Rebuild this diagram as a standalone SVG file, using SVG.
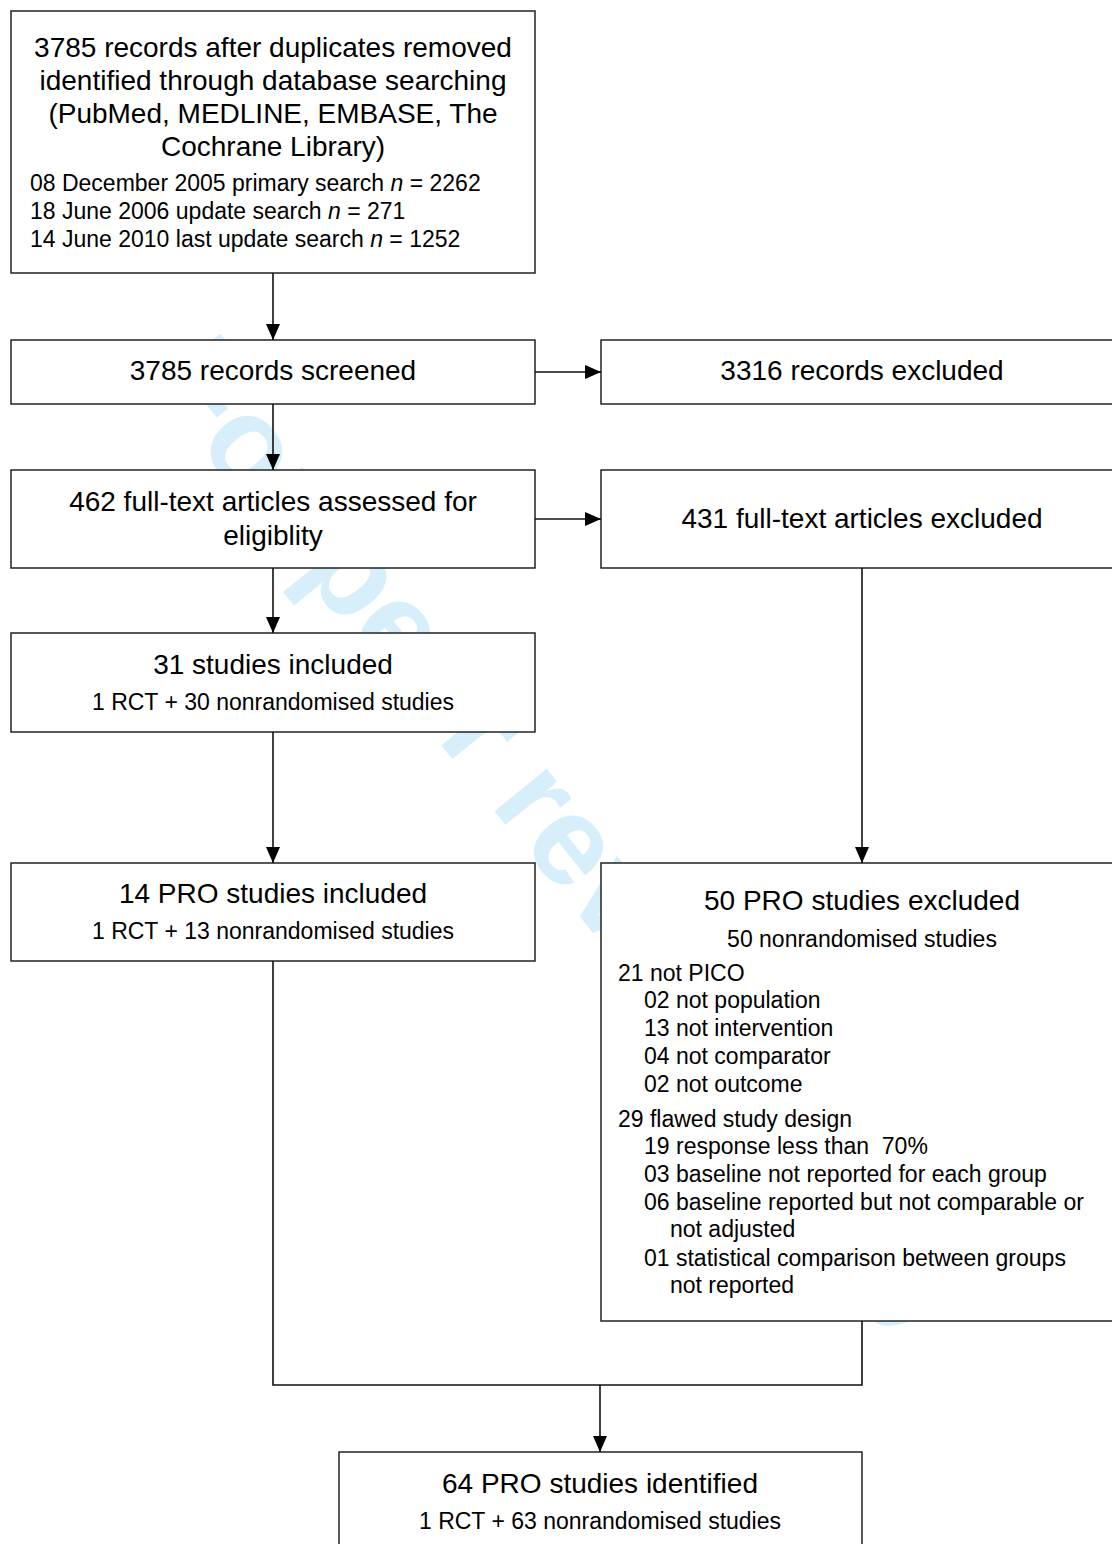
<svg xmlns="http://www.w3.org/2000/svg" width="1112" height="1544" viewBox="0 0 1112 1544">
<defs>
<style>
.box{fill:#fff;stroke:#222;stroke-width:1.5}
.t{font-family:"Liberation Sans",Arial,sans-serif;fill:#000}
.h{font-size:28px}
.s{font-size:23px}
.c{text-anchor:middle}
.wm{font-family:"Liberation Sans",Arial,sans-serif;font-weight:bold;font-size:127px;fill:#d6effb}
.con{fill:none;stroke:#111;stroke-width:1.6}
</style>
<marker id="arr" viewBox="0 0 16 14" refX="16" refY="7" markerWidth="16" markerHeight="14" markerUnits="userSpaceOnUse" orient="auto">
<path d="M0,0 L16,7 L0,14 z" fill="#000"/>
</marker>
</defs>
<rect width="1112" height="1544" fill="#fff"/>
<text class="wm" x="147" y="382" transform="rotate(51 147 382)">For peer review only</text>

<g id="n1">
<rect class="box" x="11" y="11" width="524" height="262"/>
<text class="t h c" x="273" y="57">3785 records after duplicates removed</text>
<text class="t h c" x="273" y="90">identified through database searching</text>
<text class="t h c" x="273" y="123">(PubMed, MEDLINE, EMBASE, The</text>
<text class="t h c" x="273" y="156">Cochrane Library)</text>
<text class="t s" x="30" y="191">08 December 2005 primary search <tspan font-style="italic">n</tspan> = 2262</text>
<text class="t s" x="30" y="219">18 June 2006 update search <tspan font-style="italic">n</tspan> = 271</text>
<text class="t s" x="30" y="247">14 June 2010 last update search <tspan font-style="italic">n</tspan> = 1252</text>
</g>

<g id="n2">
<rect class="box" x="11" y="340" width="524" height="64"/>
<text class="t h c" x="273" y="380">3785 records screened</text>
</g>

<g id="n3">
<rect class="box" x="601" y="340" width="540" height="64"/>
<text class="t h c" x="862" y="380">3316 records excluded</text>
</g>

<g id="n4">
<rect class="box" x="11" y="470" width="524" height="98"/>
<text class="t h c" x="273" y="511">462 full-text articles assessed for</text>
<text class="t h c" x="273" y="545">eligiblity</text>
</g>

<g id="n5">
<rect class="box" x="601" y="470" width="540" height="98"/>
<text class="t h c" x="862" y="528">431 full-text articles excluded</text>
</g>

<g id="n6">
<rect class="box" x="11" y="633" width="524" height="99"/>
<text class="t h c" x="273" y="674">31 studies included</text>
<text class="t s c" x="273" y="710">1 RCT + 30 nonrandomised studies</text>
</g>

<g id="n7">
<rect class="box" x="11" y="863" width="524" height="98"/>
<text class="t h c" x="273" y="903">14 PRO studies included</text>
<text class="t s c" x="273" y="939">1 RCT + 13 nonrandomised studies</text>
</g>

<g id="n8">
<rect class="box" x="601" y="863" width="540" height="458"/>
<text class="t h c" x="862" y="910">50 PRO studies excluded</text>
<text class="t s c" x="862" y="947">50 nonrandomised studies</text>
<text class="t s" x="618" y="981">21 not PICO</text>
<text class="t s" x="644" y="1008">02 not population</text>
<text class="t s" x="644" y="1036">13 not intervention</text>
<text class="t s" x="644" y="1064">04 not comparator</text>
<text class="t s" x="644" y="1092">02 not outcome</text>
<text class="t s" x="618" y="1127">29 flawed study design</text>
<text class="t s" x="644" y="1154" xml:space="preserve" style="white-space:pre">19 response less than  70%</text>
<text class="t s" x="644" y="1182">03 baseline not reported for each group</text>
<text class="t s" x="644" y="1210">06 baseline reported but not comparable or</text>
<text class="t s" x="670" y="1237">not adjusted</text>
<text class="t s" x="644" y="1266">01 statistical comparison between groups</text>
<text class="t s" x="670" y="1293">not reported</text>
</g>

<g id="n9">
<rect class="box" x="339" y="1452" width="523" height="120"/>
<text class="t h c" x="600" y="1493">64 PRO studies identified</text>
<text class="t s c" x="600" y="1529">1 RCT + 63 nonrandomised studies</text>
</g>

<g id="connectors">
<path class="con" d="M273,273 V340" marker-end="url(#arr)"/>
<path class="con" d="M535,372 H601" marker-end="url(#arr)"/>
<path class="con" d="M273,404 V470" marker-end="url(#arr)"/>
<path class="con" d="M535,519 H601" marker-end="url(#arr)"/>
<path class="con" d="M273,568 V633" marker-end="url(#arr)"/>
<path class="con" d="M273,732 V863" marker-end="url(#arr)"/>
<path class="con" d="M862,568 V863" marker-end="url(#arr)"/>
<path class="con" d="M273,961 V1385 H862 V1321"/>
<path class="con" d="M600,1385 V1452" marker-end="url(#arr)"/>
</g>
</svg>
